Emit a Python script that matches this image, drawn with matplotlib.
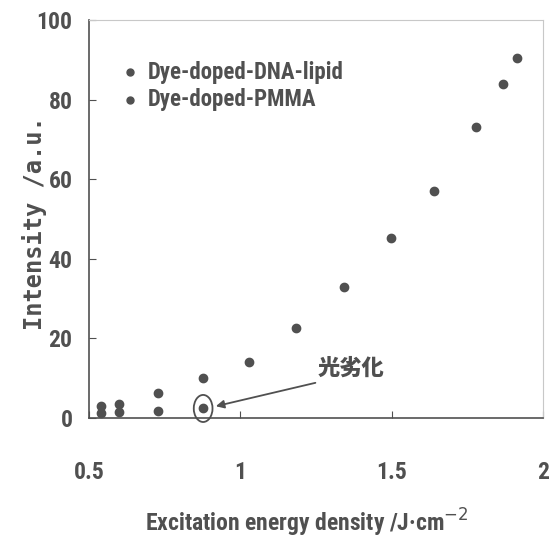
import matplotlib
matplotlib.use("Agg")
import matplotlib.pyplot as plt
from matplotlib.patches import Ellipse

cond = ['Roboto Condensed', 'Archivo Narrow', 'PT Sans Narrow', 'Open Sans Condensed',
        'Noto Sans CJK JP', 'DejaVu Sans']
plt.rcParams['font.family'] = cond

# Data
dna_x = [0.54, 0.60, 0.727, 0.877, 1.029, 1.184, 1.341, 1.498, 1.64, 1.78, 1.868, 1.913]
dna_y = [3.0, 3.6, 6.4, 10.1, 14.0, 22.5, 33.0, 45.2, 57.0, 73.1, 83.8, 90.4]
pmma_x = [0.54, 0.60, 0.727, 0.877]
pmma_y = [1.2, 1.5, 1.8, 2.4]
xticks = [0.5, 1, 1.5, 2]
xticklabels = ["0.5", "1", "1.5", "2"]
yticks = [0, 20, 40, 60, 80, 100]

gray = '#505050'

fig = plt.figure(figsize=(5.5, 5.46), dpi=100)
ax = fig.add_axes([0.162, 0.2344, 0.825, 0.729])

ax.plot(dna_x, dna_y, 'o', color=gray, markersize=6, linestyle='none')
ax.plot(pmma_x, pmma_y, 'o', color=gray, markersize=6, linestyle='none')

ax.set_xlim(0.5, 2.0)
ax.set_ylim(0, 100)
ax.set_xticks(xticks)
ax.set_xticklabels(xticklabels)
ax.set_yticks(yticks)
ax.tick_params(direction='in', length=5, color=gray, labelcolor=gray, labelsize=17)
ax.tick_params(axis='x', pad=31)
ax.tick_params(axis='y', pad=12)
for lab in ax.get_xticklabels() + ax.get_yticklabels():
    lab.set_fontweight('bold')

for s in ['left', 'bottom']:
    ax.spines[s].set_color(gray)
    ax.spines[s].set_linewidth(1.2)
for s in ['top', 'right']:
    ax.spines[s].set_color('#c8c8c8')
    ax.spines[s].set_linewidth(0.8)

ax.set_xlabel('Excitation energy density /J·cm$^{-2}$', fontsize=17,
              fontweight='bold', color=gray, va='top')
ax.xaxis.set_label_coords(0.48, -0.222)
ax.set_ylabel('Intensity /a.u.', fontsize=17, fontweight='bold', color=gray,
              family='DejaVu Sans Mono')
ax.yaxis.set_label_coords(-0.092, 0.49)

# Legend (manual)
leg_x = 0.635
ax.plot([leg_x], [86.9], 'o', color=gray, markersize=5)
ax.plot([leg_x], [79.9], 'o', color=gray, markersize=5)
ax.text(leg_x + 0.06, 86.9, 'Dye-doped-DNA-lipid', fontsize=16.5, fontweight='bold',
        color=gray, va='center')
ax.text(leg_x + 0.06, 79.9, 'Dye-doped-PMMA', fontsize=16.5, fontweight='bold',
        color=gray, va='center')

# Annotation
ax.add_patch(Ellipse((0.877, 2.4), 0.062, 6.8, fill=False, edgecolor=gray, lw=1.3,
                     clip_on=False))
ax.annotate('', xy=(0.91, 2.8), xytext=(1.257, 9.0),
            arrowprops=dict(arrowstyle='-|>', color=gray, lw=1.3, mutation_scale=12))
ax.text(1.367, 12.6, '光劣化', fontsize=16, fontweight='heavy', color=gray,
        ha='center', va='center', family=['Noto Sans CJK JP', 'DejaVu Sans'])

fig.savefig('out.png', dpi=100)
